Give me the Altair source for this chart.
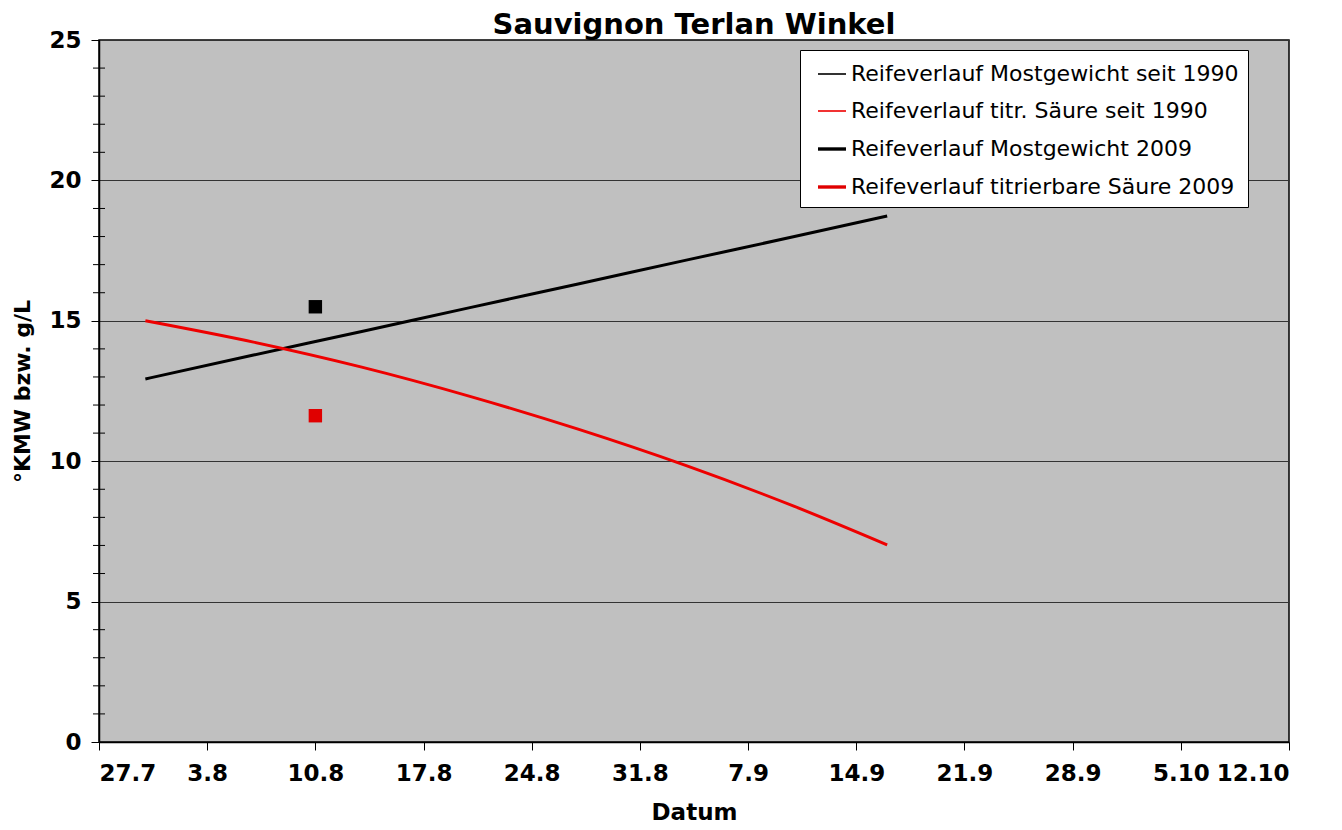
import altair as alt
import pandas as pd

# ---- data ----
dates_1990 = ["2009-07-30", "2009-08-06", "2009-08-13", "2009-08-20",
              "2009-08-27", "2009-09-03", "2009-09-10", "2009-09-16"]
mostgewicht_1990 = [12.93, 13.78, 14.62, 15.47, 16.31, 17.16, 18.00, 18.73]
saeure_1990 = [15.00, 14.24, 13.35, 12.31, 11.14, 9.84, 8.39, 7.02]

dates_2009 = ["2009-08-10"]
mostgewicht_2009 = [15.5]
saeure_2009 = [11.62]

series_names = [
    "Reifeverlauf Mostgewicht seit 1990",
    "Reifeverlauf titr. Säure seit 1990",
    "Reifeverlauf Mostgewicht 2009",
    "Reifeverlauf titrierbare Säure 2009",
]
series_colors = ["#000000", "#ee0000", "#000000", "#e00000"]
legend_widths = [1.6, 1.6, 3.4, 3.4]

tick_dates = ["2009-07-27", "2009-08-03", "2009-08-10", "2009-08-17",
              "2009-08-24", "2009-08-31", "2009-09-07", "2009-09-14",
              "2009-09-21", "2009-09-28", "2009-10-05", "2009-10-12"]
y_major = [0, 5, 10, 15, 20, 25]
y_minor = [1, 2, 3, 4, 6, 7, 8, 9, 11, 12, 13, 14, 16, 17, 18, 19, 21, 22, 23, 24]

FONT = "DejaVu Sans"


def dt(s):
    y, m, d = (int(p) for p in s.split("-"))
    return alt.DateTime(year=y, month=m, date=d)


def local(s):
    return s + "T00:00:00"


# curves (1990)
curve_rows = []
for d, v in zip(dates_1990, mostgewicht_1990):
    curve_rows.append({"date": local(d), "value": v, "series": series_names[0], "col": series_colors[0]})
for d, v in zip(dates_1990, saeure_1990):
    curve_rows.append({"date": local(d), "value": v, "series": series_names[1], "col": series_colors[1]})
curves = pd.DataFrame(curve_rows)

# points (2009)
point_rows = []
for d, v in zip(dates_2009, mostgewicht_2009):
    point_rows.append({"date": local(d), "value": v, "series": series_names[2], "col": series_colors[2]})
for d, v in zip(dates_2009, saeure_2009):
    point_rows.append({"date": local(d), "value": v, "series": series_names[3], "col": series_colors[3]})
points = pd.DataFrame(point_rows)

# legend-only rows (no drawable values)
legend_df = pd.DataFrame({
    "date": [local(dates_1990[0])] * 4,
    "value": [None] * 4,
    "series": series_names,
})

minor_df = pd.DataFrame({"value": y_minor})

x_enc = alt.X(
    "date:T",
    title="Datum",
    scale=alt.Scale(domain=[dt(tick_dates[0]), dt(tick_dates[-1])]),
    axis=alt.Axis(
        values=[dt(t) for t in tick_dates],
        format="%-d.%-m",
        grid=False,
        tickSize=8,
        labelPadding=12,
        labelFontSize=23,
        labelFontWeight="bold",
        labelOverlap=False,
        titleFontSize=23,
        titleFontWeight="bold",
        titlePadding=16,
    ),
)
y_enc = alt.Y(
    "value:Q",
    title="°KMW bzw. g/L",
    scale=alt.Scale(domain=[0, 25], nice=False),
    axis=alt.Axis(
        values=y_major,
        labelOverlap=False,
        grid=True,
        gridColor="#333333",
        gridWidth=1,
        tickSize=8,
        labelPadding=10,
        labelFontSize=23,
        labelFontWeight="bold",
        titleFontSize=22,
        titleFontWeight="bold",
        titlePadding=14,
    ),
)

curve_layer = alt.Chart(curves).mark_line(strokeWidth=3, interpolate="monotone").encode(
    x=x_enc, y=y_enc,
    color=alt.Color("col:N", scale=None),
    detail="series:N",
)

minor_layer = alt.Chart(minor_df).mark_rule(color="black", strokeWidth=1).encode(
    y="value:Q",
    x=alt.value(-6),
    x2=alt.value(6),
)

point_layer = alt.Chart(points).mark_square(size=180, opacity=1).encode(
    x="date:T", y="value:Q",
    color=alt.Color("col:N", scale=None),
)

legend_layer = alt.Chart(legend_df).mark_line().encode(
    x="date:T", y="value:Q",
    color=alt.Color(
        "series:N",
        title=None,
        scale=alt.Scale(domain=series_names, range=series_colors),
        legend=alt.Legend(
            orient="none",
            legendX=701,
            legendY=10,
            fillColor="white",
            strokeColor="black",
            padding=9,
            rowPadding=11,
            symbolType="stroke",
            symbolSize=784,
            symbolOffset=7,
            labelFontSize=22,
            labelFont=FONT,
            labelColor="black",
            labelOffset=3,
            labelLimit=600,
        ),
    ),
    strokeWidth=alt.StrokeWidth(
        "series:N",
        title=None,
        scale=alt.Scale(type="ordinal", domain=series_names, range=legend_widths),
    ),
)

chart = alt.layer(curve_layer, minor_layer, point_layer, legend_layer).properties(
    width=1190,
    height=702,
    padding={"left": 3, "top": 3, "right": 5, "bottom": 3},
    title=alt.TitleParams(
        "Sauvignon Terlan Winkel",
        fontSize=29,
        font=FONT,
        fontWeight="bold",
        anchor="middle",
        offset=-11,
        color="black",
    ),
).configure_view(
    fill="#C0C0C0", stroke="#000000", strokeWidth=1.5
).configure_axis(
    labelFont=FONT, titleFont=FONT, labelColor="black", titleColor="black",
    domainColor="black", domainWidth=1.5, tickColor="black", tickWidth=1,
)

chart.save("out.html", embed_options={"renderer": "svg", "actions": False})
